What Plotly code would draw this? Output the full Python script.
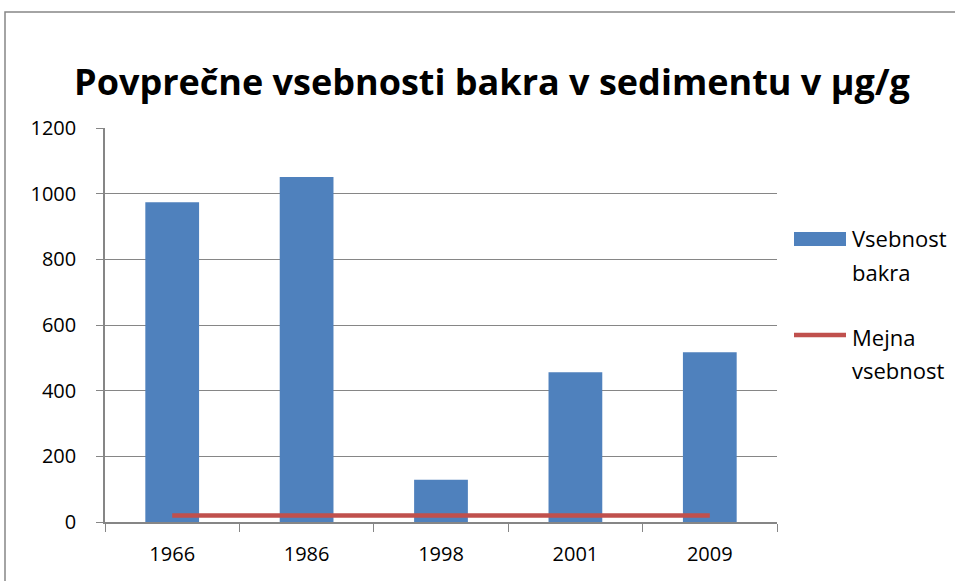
import plotly.graph_objects as go

years = ["1966", "1986", "1998", "2001", "2009"]
copper = [974, 1051, 129, 456, 517]
limit = [20, 20, 20, 20, 20]
y_ticks = [0, 200, 400, 600, 800, 1000, 1200]

W, H = 955, 581
L, T = 105, 128
PW, PH = 672, 394
R, B = W - L - PW, H - T - PH
font = "Open Sans"
grey = "#868686"


def fx(x):  # pixel x -> paper x
    return (x - L) / PW


def fy(y):  # pixel y -> paper y
    return 1 - (y - T) / PH


fig = go.Figure()
fig.add_trace(go.Bar(x=years, y=copper, name="Vsebnost bakra",
                     marker=dict(color="#4F81BD", line=dict(width=0))))
fig.add_trace(go.Scatter(x=years, y=limit, name="Mejna vsebnost", mode="lines",
                         line=dict(color="#C0504D", width=4.5)))

fig.update_layout(
    width=W, height=H,
    margin=dict(l=L, r=R, t=T, b=B),
    paper_bgcolor="white", plot_bgcolor="white",
    bargap=0.6,
    font=dict(family=font, color="black", size=20),
    title=dict(text="<b>Povprečne vsebnosti bakra v sedimentu v µg/g</b>",
               x=492 / W, xanchor="center", y=1 - 82 / H, yanchor="middle",
               font=dict(size=36, family=font, color="black")),
    showlegend=False,
)
fig.update_xaxes(showline=True, linecolor=grey, linewidth=1.5,
                 ticks="outside", ticklen=8, tickcolor=grey,
                 tickson="boundaries", showgrid=False,
                 tickfont=dict(size=20, family=font), ticklabelstandoff=13)
fig.update_yaxes(range=[0, 1200], tickvals=y_ticks, showline=True,
                 linecolor=grey, linewidth=1.5, ticks="outside", ticklen=7,
                 tickcolor=grey, showgrid=True, gridcolor=grey,
                 gridwidth=1.2, zeroline=False,
                 tickfont=dict(size=20, family=font), ticklabelstandoff=16)

# legend drawn manually (wide swatches as in the reference)
fig.add_shape(type="rect", xref="paper", yref="paper",
              x0=fx(794), x1=fx(846), y0=fy(246), y1=fy(232),
              fillcolor="#4F81BD", line=dict(width=0))
fig.add_shape(type="line", xref="paper", yref="paper",
              x0=fx(794), x1=fx(846), y0=fy(335), y1=fy(335),
              line=dict(color="#C0504D", width=4.5))
legend_texts = ["Vsebnost", "bakra", "Mejna", "vsebnost"]
legend_ys = [238, 272, 337, 370]
for txt, yy in zip(legend_texts, legend_ys):
    fig.add_annotation(text=txt, xref="paper", yref="paper", x=fx(850), y=fy(yy),
                       xanchor="left", yanchor="middle", showarrow=False,
                       font=dict(size=22, family=font, color="black"))

# outer chart border
fig.add_shape(type="rect", xref="paper", yref="paper",
              x0=fx(5), x1=fx(975), y0=fy(620), y1=fy(12),
              line=dict(color=grey, width=1.5), fillcolor="rgba(0,0,0,0)", layer="below")

fig.write_html("out.html", config={"displayModeBar": False},
               post_script="document.body.style.margin='0';")
